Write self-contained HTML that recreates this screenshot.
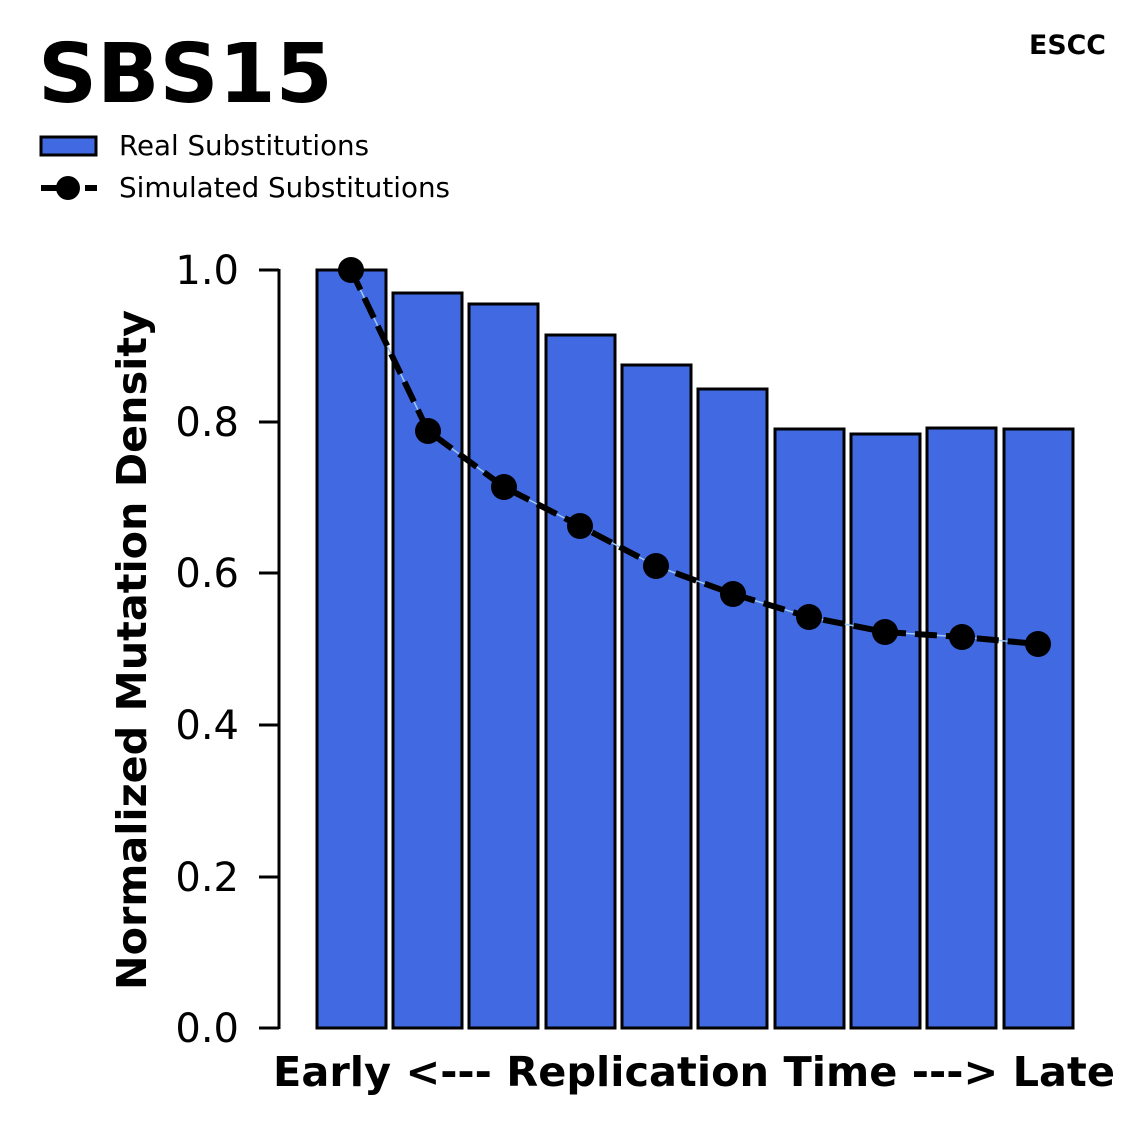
<!DOCTYPE html>
<html><head><style>
html,body{margin:0;padding:0;background:#fff;}
svg{display:block;font-family:"DejaVu Sans","Liberation Sans",sans-serif;}
</style></head><body>
<svg width="1147" height="1125" viewBox="0 0 1147 1125" xmlns="http://www.w3.org/2000/svg">
<text x="38" y="102" font-size="82" font-weight="bold">SBS15</text>
<text x="1106" y="54" font-size="27" font-weight="bold" text-anchor="end" textLength="77" lengthAdjust="spacingAndGlyphs">ESCC</text>
<rect x="41" y="137" width="55" height="18" fill="#4169e1" stroke="#000" stroke-width="3"/>
<text x="119" y="155" font-size="27.5" textLength="250" lengthAdjust="spacingAndGlyphs">Real Substitutions</text>
<line x1="41" y1="188" x2="97" y2="188" stroke="#000" stroke-width="6" stroke-dasharray="16,6"/>
<circle cx="68" cy="188" r="12"/>
<text x="119" y="197" font-size="27.5" textLength="331" lengthAdjust="spacingAndGlyphs">Simulated Substitutions</text>
<g stroke="#000" stroke-width="3">
<line x1="279" y1="269" x2="279" y2="1029"/>
<line x1="259" y1="270" x2="279" y2="270"/><line x1="259" y1="422" x2="279" y2="422"/>
<line x1="259" y1="573" x2="279" y2="573"/><line x1="259" y1="725" x2="279" y2="725"/>
<line x1="259" y1="877" x2="279" y2="877"/><line x1="259" y1="1028" x2="279" y2="1028"/>
</g>
<g font-size="40" text-anchor="end">
<text x="239" y="284">1.0</text><text x="239" y="436">0.8</text><text x="239" y="587">0.6</text>
<text x="239" y="739">0.4</text><text x="239" y="891">0.2</text><text x="239" y="1042">0.0</text>
</g>
<text transform="translate(146,650) rotate(-90)" font-size="41" font-weight="bold" text-anchor="middle" textLength="680" lengthAdjust="spacingAndGlyphs">Normalized Mutation Density</text>
<text x="694" y="1086" font-size="41" font-weight="bold" text-anchor="middle" textLength="842" lengthAdjust="spacingAndGlyphs">Early &lt;--- Replication Time ---&gt; Late</text>
<g fill="#4169e1" stroke="#000" stroke-width="3">
<rect x="317" y="270" width="69" height="758"/>
<rect x="393" y="293" width="69" height="735"/>
<rect x="469" y="304" width="69" height="724"/>
<rect x="546" y="335" width="69" height="693"/>
<rect x="622" y="365" width="69" height="663"/>
<rect x="698" y="389" width="69" height="639"/>
<rect x="775" y="429" width="69" height="599"/>
<rect x="851" y="434" width="69" height="594"/>
<rect x="927" y="428" width="69" height="600"/>
<rect x="1004" y="429" width="69" height="599"/>
</g>
<polyline points="351,270 428,431 504,487 580,526 656,566 733,594 809,617 885,632 962,637 1038,644" fill="none" stroke="#9cc8f0" stroke-width="1.5"/>
<polyline points="351,270 428,431 504,487 580,526 656,566 733,594 809,617 885,632 962,637 1038,644" fill="none" stroke="#000" stroke-width="6" stroke-dasharray="22,9"/>
<g>
<circle cx="351" cy="270" r="13"/><circle cx="428" cy="431" r="13"/><circle cx="504" cy="487" r="13"/>
<circle cx="580" cy="526" r="13"/><circle cx="656" cy="566" r="13"/><circle cx="733" cy="594" r="13"/>
<circle cx="809" cy="617" r="13"/><circle cx="885" cy="632" r="13"/><circle cx="962" cy="637" r="13"/>
<circle cx="1038" cy="644" r="13"/>
</g>
</svg>
</body></html>
